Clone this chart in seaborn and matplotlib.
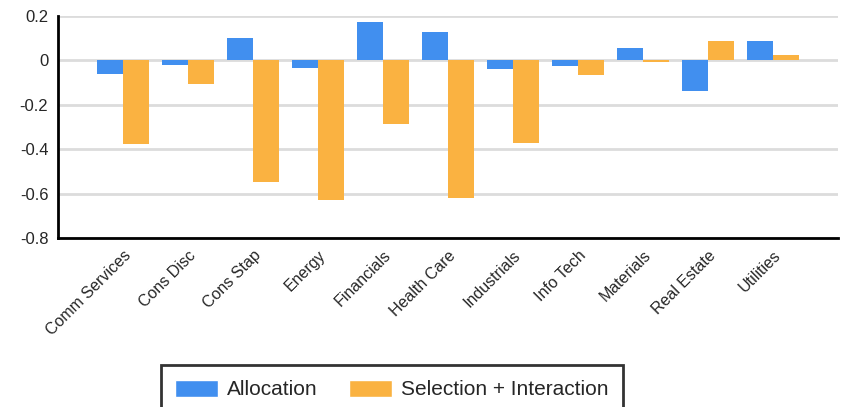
import numpy as np
import pandas as pd
import matplotlib
matplotlib.use("Agg")
import matplotlib.pyplot as plt
from matplotlib.patches import Patch
import seaborn as sns

SECTORS = ["Comm Services", "Cons Disc", "Cons Stap", "Energy", "Financials", "Health Care",
           "Industrials", "Info Tech", "Materials", "Real Estate", "Utilities"]
ALLOCATION = [-0.061, -0.020, 0.100, -0.032, 0.173, 0.130, -0.038, -0.023, 0.055, -0.137, 0.089]
SELECTION = [-0.377, -0.107, -0.550, -0.630, -0.286, -0.622, -0.373, -0.064, -0.005, 0.089, 0.026]
SERIES = ["Allocation", "Selection + Interaction"]
COLORS = {"Allocation": "#418fef", "Selection + Interaction": "#fab241"}
Y_TICKS = [0.2, 0, -0.2, -0.4, -0.6, -0.8]
Y_LABELS = ["0.2", "0", "-0.2", "-0.4", "-0.6", "-0.8"]

df = pd.DataFrame({
    "Sector": SECTORS * 2,
    "Value": ALLOCATION + SELECTION,
    "Series": [SERIES[0]] * len(SECTORS) + [SERIES[1]] * len(SECTORS),
})

sns.set_style("white")
plt.rcParams["font.family"] = ["Liberation Sans", "DejaVu Sans"]

W, H = 842, 407
fig = plt.figure(figsize=(W / 100, H / 100), dpi=100)
ax = fig.add_axes([58 / W, 1 - 238 / H, 780 / W, 222 / H])

sns.barplot(data=df, x="Sector", y="Value", hue="Series", order=SECTORS, hue_order=SERIES,
            palette=COLORS, width=0.8, saturation=1, edgecolor="none", legend=False, ax=ax)

ax.set_xlim(-1, len(SECTORS))
ax.set_ylim(-0.8, 0.2)
ax.set_xticks(np.arange(-1, len(SECTORS) + 1))
ax.set_xticklabels([""] + SECTORS + [""], rotation=45, ha="right", rotation_mode="anchor",
                   fontsize=11.5)
ax.set_yticks(Y_TICKS)
ax.set_yticklabels(Y_LABELS, fontsize=12)
ax.tick_params(axis="both", direction="out", length=4, width=1, color="black", pad=3)
ax.set_xlabel("")
ax.set_ylabel("")

ax.set_axisbelow(True)
ax.yaxis.grid(True, color="#dcdcdc", linewidth=2)
for side in ["top", "right"]:
    ax.spines[side].set_visible(False)
for side in ["left", "bottom"]:
    ax.spines[side].set_color("black")
    ax.spines[side].set_linewidth(2)

handles = [Patch(facecolor=COLORS[s], label=s) for s in SERIES]
leg = fig.legend(handles=handles, loc="upper center", bbox_to_anchor=(392 / W, 1 - 365 / H),
                 ncol=2, fontsize=15, frameon=True, fancybox=False, handlelength=2.05,
                 handleheight=0.9, handletextpad=0.45, columnspacing=1.5, borderpad=0.7,
                 borderaxespad=0)
leg.get_frame().set_edgecolor("black")
leg.get_frame().set_linewidth(2)

fig.savefig("out.png", dpi=100)
